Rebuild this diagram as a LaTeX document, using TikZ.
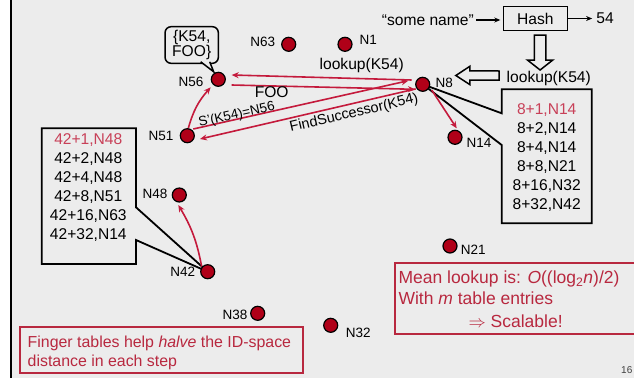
\documentclass[tikz,border=0pt]{standalone}
\usepackage{fontspec}
\setmainfont{Liberation Sans}
\usetikzlibrary{calc,arrows.meta}
\pgfdeclarelayer{back}
\pgfsetlayers{back,main}

\definecolor{bg}{HTML}{ECECEC}
\definecolor{dotred}{HTML}{B00018}
\definecolor{arrred}{HTML}{C41A3C}
\definecolor{txtred}{HTML}{B8283F}
\definecolor{hilite}{HTML}{C84058}

\begin{document}
\begin{tikzpicture}[x=1pt,y=-1pt,
  ringdot/.style={circle, fill=dotred, draw=black, line width=1.2pt, minimum size=14pt, inner sep=0pt},
  nlab/.style={font=\fontsize{13.5}{14}\selectfont, inner sep=0pt},
  txt/.style={font=\fontsize{15.6}{19}\selectfont, inner sep=0pt},
  redarr/.style={draw=arrred, line width=1.6pt, -{Stealth[length=7pt,width=6pt]}},
  blkarr/.style={line width=1.3pt, -{Stealth[length=6pt,width=5pt]}},
  calloutline/.style={draw=black, line width=1.8pt, line join=miter},
  boxframe/.style={rectangle, inner sep=0pt, outer sep=0pt, draw=none},
  hollowarrow/.style={draw=black, line width=1.5pt, fill=bg, line join=miter},
  redbox/.style={draw=txtred, line width=1.8pt, inner sep=0pt, outer sep=0pt, anchor=north west},
  ft/.style={text=txtred, font=\fontsize{15.9}{18.5}\selectfont, inner sep=0pt, anchor=base west},
  mt/.style={text=txtred, font=\fontsize{17.5}{21.5}\selectfont, inner sep=0pt, anchor=base west}]
\useasboundingbox (0,0) rectangle (634,378);

% slide background and left edge
\begin{pgfonlayer}{back}
  \fill[white] (0,0) rectangle (10,378);
  \fill[bg] (10,0) rectangle (634,378);
  \draw[line width=2pt] (10.5,0) -- (10.5,378);
\end{pgfonlayer}

% ring members
\node[ringdot] (n63) at (288.7,44.3) {};
\node[ringdot] (n1)  at (345,44.3) {};
\node[ringdot] (n8)  at (422.7,84.3) {};
\node[ringdot] (n14) at (455,137.3) {};
\node[ringdot] (n56) at (218.3,79.3) {};
\node[ringdot] (n51) at (187.3,135.7) {};
\node[ringdot] (n48) at (179.3,195) {};
\node[ringdot] (n42) at (207.7,271.7) {};
\node[ringdot] (n38) at (257.7,313.3) {};
\node[ringdot] (n32) at (330.7,325.3) {};
\node[ringdot] (n21) at (450,246) {};

\node[nlab] (l63) at (262.7,42.3) {N63};
\node[nlab] (l1)  at (368.3,40) {N1};
\node[nlab] (l8)  at (444.3,82.7) {N8};
\node[nlab] (l14) at (479,143.3) {N14};
\node[nlab] (l56) at (191,81.7) {N56};
\node[nlab] (l51) at (161,135.7) {N51};
\node[nlab] (l48) at (155,194) {N48};
\node[nlab] (l42) at (182.7,271.7) {N42};
\node[nlab] (l38) at (235,315) {N38};
\node[nlab] (l32) at (358.3,332.7) {N32};
\node[nlab] (l21) at (473.3,249.3) {N21};

% key stored at N56
\node[draw, line width=1.5pt, rounded corners=6pt, minimum width=53.3pt, minimum height=36.6pt,
      font=\fontsize{15.6}{15.5}\selectfont, align=center, inner sep=0pt, outer sep=0pt, fill=bg]
      (kv) at (191.7,45) {\{K54,\\FOO\}};
\draw[line width=1.5pt, fill=bg] ($(kv.south)+(9,-1.5)$) -- ($(kv.south)+(22,8.5)$) -- ($(kv.south)+(18,-1.5)$);

% hashing the name
\node[txt, anchor=east] (name) at (474,20) {“some name”};
\node[draw, line width=1.5pt, minimum width=64pt, minimum height=24pt, txt, outer sep=0pt] (hash) at (535.3,18.7) {Hash};
\node[txt] (v54) at (605,18.5) {54};
\draw[blkarr, shorten <=2pt, shorten >=3pt] (name.east) -- (name.east -| hash.west);
\draw[blkarr, shorten <=1pt, shorten >=4pt] (hash.east |- v54.west) -- (v54.west);
\node[txt] (lk2) at (548.8,78.3) {lookup(K54)};

% finger tables
\node[boxframe, minimum width=90pt, minimum height=134pt] (box8) at (546.7,156.3) {};
\node[txt, align=center] (t8) at (546.7,157.5)
  {\textcolor{hilite}{8+1,N14}\\8+2,N14\\8+4,N14\\8+8,N21\\8+16,N32\\8+32,N42};
\node[boxframe, minimum width=94.3pt, minimum height=135.7pt] (box42) at (88.85,196.15) {};
\node[txt, align=center] (t42) at (88.3,188)
  {\textcolor{hilite}{42+1,N48}\\42+2,N48\\42+4,N48\\42+8,N51\\42+16,N63\\42+32,N14};

% message labels
\node[txt] (lk1) at (361.7,65) {lookup(K54)};
\node[txt] (foo) at (271.7,92.3) {FOO};
\node[font=\fontsize{13.5}{14}\selectfont, rotate=12.7, inner sep=0pt] (sk) at (236.7,115) {S'(K54)=N56};
\node[font=\fontsize{14.5}{15}\selectfont, rotate=13.1, inner sep=0pt] (fs) at (354,113.3) {FindSuccessor(K54)};

% notes
\node[redbox, minimum width=283pt, minimum height=46pt] (fbox) at (20,327) {};
\node[ft] (f1) at (27.5,347.5) {Finger tables help \textit{halve} the ID-space};
\node[ft] (f2) at (27.5,366) {distance in each step};
\node[redbox, minimum width=255pt, minimum height=70.7pt] (mbox) at (395,263.3) {};
\node[mt] (m1) at (398.3,283.5) {Mean lookup is: \textit{O}((log\textsubscript{2}\textit{n})/2)};
\node[mt] (m2) at (398.3,304.5) {With \textit{m} table entries};
\node[mt] (m3) at (468.3,327.2) {$\Rightarrow$ Scalable!};

\node[font=\fontsize{10}{12}\selectfont, text=black!75, anchor=base west, inner sep=0pt] (pg) at (621,373.5) {16};

\begin{pgfonlayer}{back}
  % callout outlines of the finger tables
  \draw[calloutline] (n8.center) -- ($(box8.north west)+(0,24)$) -- (box8.north west) -- (box8.north east)
        -- (box8.south east) -- (box8.south west) -- ($(box8.south west)+(0,-78.3)$) -- cycle;
  \draw[calloutline] (n42.center) -- ($(box42.south east)+(0,-24)$) -- (box42.south east) -- (box42.south west)
        -- (box42.north west) -- (box42.north east) -- ($(box42.north east)+(0,79)$) -- cycle;
  % block arrows
  \draw[hollowarrow] ($(hash.south)+(-1,4.3)$) -- ++(11.6,0) -- ++(0,25) -- ++(6.9,0)
        -- ++(-12.7,10) -- ++(-12.7,-10) -- ++(6.9,0) -- cycle;
  \draw[hollowarrow] ($(lk2.west)+(-7.4,-7.3)$) -- ++(0,9) -- ++(-29.3,0) -- ++(0,4.6)
        -- ++(-14,-9.1) -- ++(14,-9.2) -- ++(0,4.6) -- cycle;
  % messages
  \draw[redarr] ($(n8)+(-11,-4.3)$) -- ($(n56)+(13.4,-4.3)$);
  \draw[redarr] ($(n56)+(13.4,5.7)$) -- ($(n8)+(-7.7,5)$);
  \draw[redarr] ($(n51)+(6,-6.7)$) -- ($(n8)+(-14.4,-3.6)$);
  \draw[redarr] ($(n8)+(-7,4.6)$) -- ($(n51)+(12.7,3.3)$);
  \draw[redarr] ($(n51)+(1,-7.4)$) to[bend left=13] ($(n56)+(-7.6,8)$);
  \draw[redarr] ($(n8)+(9,5.7)$) -- ($(n14)+(1.7,-9)$);
  \draw[redarr] ($(n42)+(-6,-5)$) to[bend right=10] ($(n48)+(-1,10)$);
\end{pgfonlayer}
\end{tikzpicture}
\end{document}
